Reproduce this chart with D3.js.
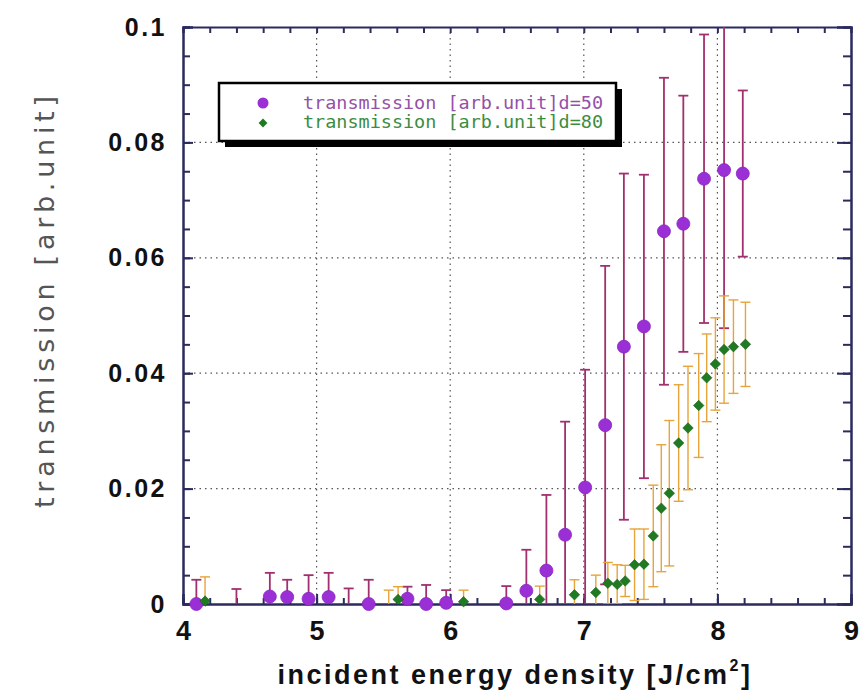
<!DOCTYPE html>
<html>
<head>
<meta charset="utf-8">
<script src="https://cdn.jsdelivr.net/npm/d3@7"></script>
<style>
  html, body { margin: 0; padding: 0; background: #fff; }
  svg { display: block; }
</style>
</head>
<body>
<svg id="chart" width="865" height="693"></svg>
<script>
// ---- data ----
const xTicks = [4, 5, 6, 7, 8, 9];
const yTicks = [0, 0.02, 0.04, 0.06, 0.08, 0.1];
const yTickLabels = ["0", "0.02", "0.04", "0.06", "0.08", "0.1"];

const legendLabels = ["transmission [arb.unit]d=50", "transmission [arb.unit]d=80"];

// d=50 series (purple circles)
const d50x   = [4.10, 4.40, 4.65, 4.78, 4.94, 5.09, 5.24, 5.39, 5.68, 5.82, 5.97, 6.42, 6.57, 6.72, 6.86, 7.01, 7.16, 7.30, 7.45, 7.60, 7.745, 7.90, 8.05, 8.19];
const d50y   = [0.0000, -0.0030, 0.0013, 0.0012, 0.0009, 0.0012, -0.0030, 0.0000, 0.0009, 0.0000, 0.0002, 0.0001, 0.0023, 0.0058, 0.0120, 0.0202, 0.0310, 0.0446, 0.0481, 0.0646, 0.0659, 0.0737, 0.0752, 0.0746];
const d50err = [0.0042, 0.0056, 0.0041, 0.0030, 0.0041, 0.0042, 0.0057, 0.0042, 0.0021, 0.0033, 0.0022, 0.0030, 0.0071, 0.0131, 0.0196, 0.0204, 0.0276, 0.0300, 0.0263, 0.0266, 0.0222, 0.0250, 0.0274, 0.0144];

// d=80 series (green diamonds)
const d80x   = [4.165, 5.54, 5.61, 6.10, 6.67, 6.93, 7.09, 7.18, 7.25, 7.31, 7.38, 7.45, 7.52, 7.58, 7.64, 7.71, 7.78, 7.86, 7.92, 7.985, 8.05, 8.12, 8.21];
const d80y   = [0.0005, -0.0030, 0.0008, 0.0004, 0.0008, 0.0016, 0.0020, 0.0036, 0.0034, 0.0040, 0.0068, 0.0069, 0.0118, 0.0166, 0.0192, 0.0279, 0.0305, 0.0344, 0.0392, 0.0416, 0.0441, 0.0446, 0.0450];
const d80err = [0.0042, 0.0054, 0.0022, 0.0020, 0.0023, 0.0026, 0.0030, 0.0036, 0.0034, 0.0027, 0.0062, 0.0061, 0.0088, 0.0110, 0.0126, 0.0101, 0.0107, 0.0090, 0.0076, 0.0080, 0.0093, 0.0081, 0.0073];

// ---- layout ----
const svg = d3.select("#chart");
const M = { left: 183, top: 27, right: 851, bottom: 604 };
const x = d3.scaleLinear().domain([4, 9]).range([M.left, M.right]);
const y = d3.scaleLinear().domain([0, 0.1]).range([M.bottom, M.top]);

const axisColor = "#2b2b5e";
const purple = "#9a2fd6";
const purpleBar = "#a1306f";
const green = "#1f7a22";
const orangeBar = "#e6a43a";

const defs = svg.append("defs");
defs.append("clipPath").attr("id", "clipPlot").append("rect")
  .attr("x", M.left).attr("y", M.top).attr("width", M.right - M.left).attr("height", M.bottom - M.top);
defs.append("clipPath").attr("id", "clipMarks").append("rect")
  .attr("x", M.left - 10).attr("y", M.top - 10).attr("width", M.right - M.left + 20).attr("height", M.bottom - M.top + 20);

// ---- grid ----
const grid = svg.append("g");
grid.selectAll("line.gx").data(xTicks.slice(1, -1)).enter().append("line")
  .attr("x1", d => x(d)).attr("x2", d => x(d)).attr("y1", M.top).attr("y2", M.bottom)
  .attr("stroke", "#555").attr("stroke-width", 1.2).attr("stroke-dasharray", "1.5,4");
grid.selectAll("line.gy").data(yTicks.slice(1, -1)).enter().append("line")
  .attr("y1", d => y(d)).attr("y2", d => y(d)).attr("x1", M.left).attr("x2", M.right)
  .attr("stroke", "#555").attr("stroke-width", 1.2).attr("stroke-dasharray", "1.5,4");

// ---- axes (ticks inward, all four sides) ----
const xMinor = d3.range(4, 9.0001, 0.2).map(v => +v.toFixed(2));
const yMinor = d3.range(0, 0.10001, 0.005).map(v => +v.toFixed(3));

const bottomAxis = d3.axisBottom(x).tickValues(xTicks).tickSize(-10).tickPadding(18).tickFormat(d3.format("d"));
const bottomMinor = d3.axisBottom(x).tickValues(xMinor).tickSize(-6).tickFormat("");
const topMinor = d3.axisTop(x).tickValues(xMinor).tickSize(-6).tickFormat("");
const leftAxis = d3.axisLeft(y).tickValues(yTicks).tickSize(-10).tickPadding(18).tickFormat((d, i) => yTickLabels[i]);
const leftMinor = d3.axisLeft(y).tickValues(yMinor).tickSize(-7).tickFormat("");
const rightAxis = d3.axisRight(y).tickValues(yTicks).tickSize(-14).tickFormat("");
const rightMinor = d3.axisRight(y).tickValues(yMinor).tickSize(-8).tickFormat("");

function styleAxis(g) {
  g.selectAll("path").attr("stroke", axisColor).attr("stroke-width", 2);
  g.selectAll("line").attr("stroke", axisColor).attr("stroke-width", 2);
}

svg.append("g").attr("transform", `translate(0,${M.bottom})`).call(bottomMinor).call(styleAxis);
const gb = svg.append("g").attr("transform", `translate(0,${M.bottom})`).call(bottomAxis).call(styleAxis);
gb.selectAll(".tick text").attr("font-family", "Liberation Sans, Arial, sans-serif").attr("font-weight", "bold")
  .attr("font-size", 27).attr("fill", "#111").attr("dy", "0.9em").attr("y", 12);

svg.append("g").attr("transform", `translate(0,${M.top})`).call(topMinor).call(styleAxis);
svg.append("g").attr("transform", `translate(${M.left},0)`).call(leftMinor).call(styleAxis);
const gl = svg.append("g").attr("transform", `translate(${M.left},0)`).call(leftAxis).call(styleAxis);
gl.selectAll(".tick text").attr("font-family", "Liberation Sans, Arial, sans-serif").attr("font-weight", "bold")
  .attr("font-size", 25).attr("fill", "#111").attr("letter-spacing", 2.5).attr("x", -16);
svg.append("g").attr("transform", `translate(${M.right},0)`).call(rightMinor).call(styleAxis);
svg.append("g").attr("transform", `translate(${M.right},0)`).call(rightAxis).call(styleAxis);

// ---- error bars ----
function errorBars(xs, ys, es, color, width) {
  const g = svg.append("g").attr("clip-path", "url(#clipPlot)");
  const data = xs.map((v, i) => ({ x: v, y: ys[i], e: es[i] }));
  g.selectAll("line.v").data(data).enter().append("line")
    .attr("x1", d => x(d.x)).attr("x2", d => x(d.x))
    .attr("y1", d => y(d.y - d.e)).attr("y2", d => y(d.y + d.e))
    .attr("stroke", color).attr("stroke-width", width);
  g.selectAll("line.ct").data(data).enter().append("line")
    .attr("x1", d => x(d.x) - 5).attr("x2", d => x(d.x) + 5)
    .attr("y1", d => y(d.y + d.e)).attr("y2", d => y(d.y + d.e))
    .attr("stroke", color).attr("stroke-width", width);
  g.selectAll("line.cb").data(data).enter().append("line")
    .attr("x1", d => x(d.x) - 5).attr("x2", d => x(d.x) + 5)
    .attr("y1", d => y(d.y - d.e)).attr("y2", d => y(d.y - d.e))
    .attr("stroke", color).attr("stroke-width", width);
}
errorBars(d50x, d50y, d50err, purpleBar, 1.8);
errorBars(d80x, d80y, d80err, orangeBar, 1.4);

// ---- markers ----
const marks = svg.append("g").attr("clip-path", "url(#clipMarks)");
marks.selectAll("circle").data(d50x.map((v, i) => ({ x: v, y: d50y[i] }))).enter().append("circle")
  .attr("cx", d => x(d.x)).attr("cy", d => y(d.y)).attr("r", 6.5)
  .attr("fill", purple).attr("stroke", "#8a25c4").attr("stroke-width", 0.8);
const diamond = d3.symbol().type(d3.symbolDiamond2).size(70);
marks.selectAll("path.dm").data(d80x.map((v, i) => ({ x: v, y: d80y[i] }))).enter().append("path")
  .attr("d", diamond).attr("transform", d => `translate(${x(d.x)},${y(d.y)})`)
  .attr("fill", green).attr("stroke", "#155e18").attr("stroke-width", 0.6);

// ---- axis titles ----
const xt = svg.append("text").attr("x", 515).attr("y", 684).attr("text-anchor", "middle")
  .attr("font-family", "Liberation Sans, Arial, sans-serif").attr("font-weight", "bold")
  .attr("font-size", 27).attr("letter-spacing", 2.5).attr("fill", "#111");
xt.append("tspan").text("incident energy density [J/cm");
xt.append("tspan").attr("font-size", 16).attr("dy", -13).text("2");
xt.append("tspan").attr("dy", 13).text("]");

svg.append("text").attr("transform", "translate(54,302) rotate(-90)").attr("text-anchor", "middle")
  .attr("font-family", "DejaVu Sans, sans-serif").attr("font-size", 27).attr("fill", "#555")
  .attr("textLength", 412).attr("lengthAdjust", "spacing")
  .text("transmission [arb.unit]");

// ---- legend ----
const L = { x: 219, y: 83, w: 397, h: 58 };
svg.append("rect").attr("x", L.x + 6).attr("y", L.y + 6).attr("width", L.w).attr("height", L.h).attr("fill", "#000");
svg.append("rect").attr("x", L.x).attr("y", L.y).attr("width", L.w).attr("height", L.h)
  .attr("fill", "#fff").attr("stroke", "#000").attr("stroke-width", 2.5);
const legText = ["#9550a8", "#3d8c40"];
svg.append("circle").attr("cx", 263).attr("cy", 103).attr("r", 5.5).attr("fill", purple);
svg.append("path").attr("d", d3.symbol().type(d3.symbolDiamond2).size(50)).attr("transform", "translate(263,123)").attr("fill", green);
legendLabels.forEach((t, i) => {
  svg.append("text").attr("x", 303).attr("y", 109 + i * 19)
    .attr("font-family", "DejaVu Sans Mono, monospace").attr("font-size", 18)
    .attr("fill", legText[i]).attr("textLength", 300).attr("lengthAdjust", "spacingAndGlyphs")
    .text(t);
});
</script>
</body>
</html>
